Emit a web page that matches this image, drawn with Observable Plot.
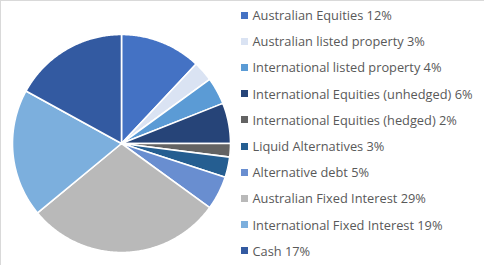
<!DOCTYPE html>
<html><head><meta charset="utf-8">
<script src="https://cdn.jsdelivr.net/npm/d3@7"></script>
<script src="https://cdn.jsdelivr.net/npm/@observablehq/plot@0.6"></script>
<style>
body{margin:0;background:#fff;}
#wrap{position:relative;width:484px;height:265px;}
#legend{position:absolute;left:241px;top:2px;font-family:"Open Sans",Arial,sans-serif;font-size:12.8px;color:#595959;}
.row{height:26.2px;display:flex;align-items:center;white-space:nowrap;}
.sw{width:7px;height:7px;margin-right:4.5px;flex:none;}
</style></head>
<body><div id="wrap"><div id="legend"></div></div>
<script>
const categories = ["Australian Equities","Australian listed property","International listed property","International Equities (unhedged)","International Equities (hedged)","Liquid Alternatives","Alternative debt","Australian Fixed Interest","International Fixed Interest","Cash"];
const values = [12,3,4,6,2,3,5,29,19,17];
const colors = ["#4472C4","#DAE3F3","#5B9BD5","#264478","#636363","#255E91","#698ED0","#B9B9B9","#7CAFDD","#335AA1"];

const data = categories.map((c,i)=>({category:c,value:values[i]}));
const arcs = d3.pie().sort(null).value(d=>d.value)(data);
const pts = [];
arcs.forEach(a=>{
  const c = a.data.category;
  pts.push({category:c,x:0,y:0});
  const n = Math.max(2, Math.ceil((a.endAngle-a.startAngle)/0.01));
  for(let k=0;k<=n;k++){
    const t = a.startAngle + (a.endAngle-a.startAngle)*k/n;
    pts.push({category:c,x:Math.sin(t),y:Math.cos(t)});
  }
  pts.push({category:c,x:0,y:0});
});

const chart = Plot.plot({
  width:484,height:265,
  marginTop:0,marginRight:0,marginBottom:0,marginLeft:0,
  x:{domain:[-1,1],range:[12,230],axis:null},
  y:{domain:[-1,1],range:[252,34],axis:null},
  color:{domain:categories,range:colors},
  marks:[
    Plot.frame({stroke:"#D9D9D9"}),
    Plot.line(pts,{x:"x",y:"y",z:"category",fill:"category",stroke:"white",strokeWidth:1.6,strokeLinejoin:"round"})
  ]
});
const wrap = document.getElementById("wrap");
wrap.insertBefore(chart, wrap.firstChild);

const legend = document.getElementById("legend");
categories.forEach((c,i)=>{
  const row = document.createElement("div"); row.className="row";
  const sw = document.createElement("span"); sw.className="sw"; sw.style.background=colors[i];
  const tx = document.createElement("span"); tx.textContent = `${c} ${values[i]}%`;
  row.appendChild(sw); row.appendChild(tx); legend.appendChild(row);
});
</script></body></html>
